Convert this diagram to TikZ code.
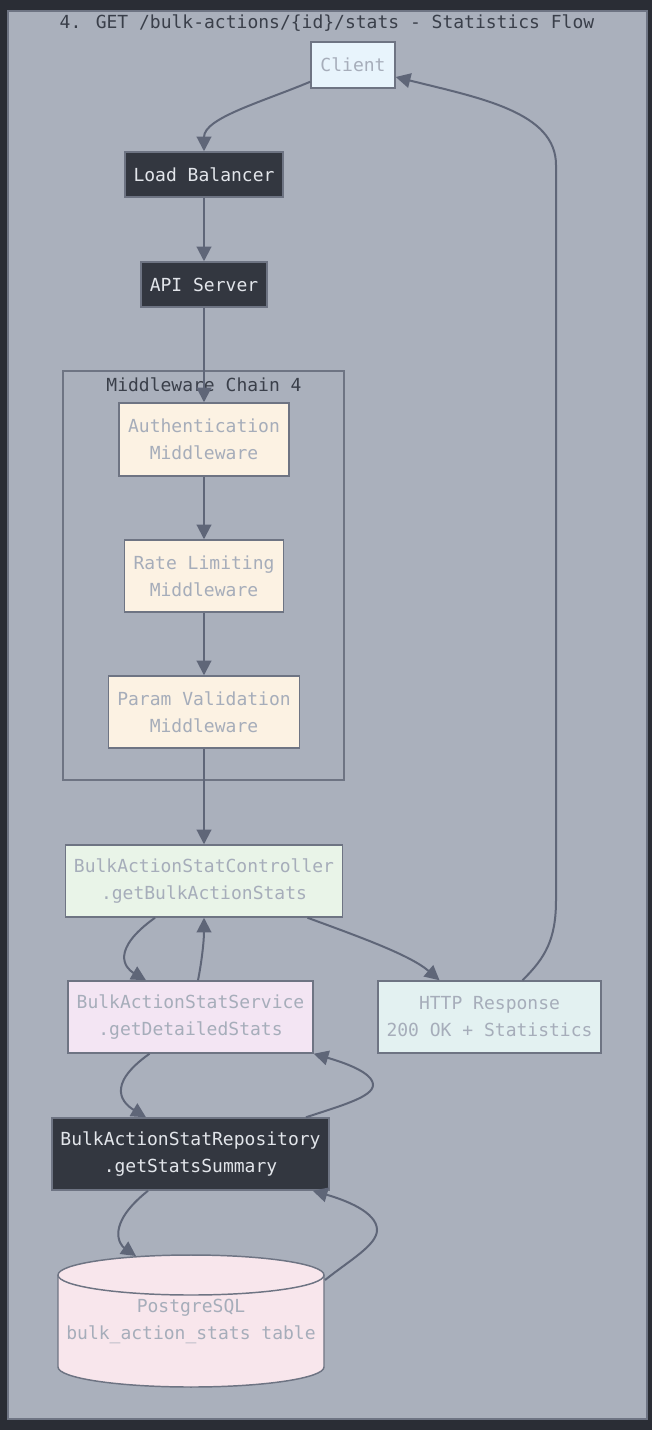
\documentclass[tikz,border=0pt]{standalone}
\usepackage{fontspec}
\setmainfont{DejaVu Sans Mono}
\usetikzlibrary{arrows.meta,calc}
\definecolor{outerbg}{HTML}{2A2D35}
\definecolor{innerbg}{HTML}{AAB0BC}
\definecolor{framec}{HTML}{6E7483}
\definecolor{edgec}{HTML}{5F6678}
\definecolor{lighttxt}{HTML}{A6ADBA}
\definecolor{darktxt}{HTML}{E2E5EA}
\definecolor{titletxt}{HTML}{3A3F4A}
\definecolor{darkfill}{HTML}{333740}
\definecolor{clientfill}{HTML}{E8F4FC}
\definecolor{mwfill}{HTML}{FCF2E3}
\definecolor{ctrlfill}{HTML}{E9F4E8}
\definecolor{svcfill}{HTML}{F3E5F3}
\definecolor{httpfill}{HTML}{E3F1F1}
\definecolor{dbfill}{HTML}{F8E6EC}
\begin{document}
\begin{tikzpicture}[x=0.75pt,y=-0.75pt,
  basefont/.style={font=\fontsize{13.5pt}{20.25pt}\selectfont},
  box/.style={basefont, draw=framec, line width=1.1pt, inner sep=0pt, align=center},
  lightbox/.style={box, text=lighttxt},
  darkbox/.style={box, fill=darkfill, text=darktxt},
  cluster/.style={draw=framec, line width=1.1pt, inner sep=0pt},
  lbl/.style={basefont, text=titletxt, inner sep=0pt},
  flow/.style={draw=edgec, line width=1.5pt, -{Triangle[length=11pt,width=11pt]}}]
\useasboundingbox (0,0) rectangle (652,1430);
\fill[outerbg] (0,0) rectangle (652,1430);
\node[cluster, fill=innerbg, draw=framec, minimum width=639*0.75pt, minimum height=1408*0.75pt] (frame) at (327.5,715) {};
\node[lbl] (title) at (327,23.5) {4. GET /bulk-actions/\{id\}/stats - Statistics Flow};

% middleware cluster
\node[cluster, minimum width=281*0.75pt, minimum height=409*0.75pt] (mw) at (203.5,575.5) {};
\node[lbl] (mwlbl) at (204,385) {Middleware Chain 4};

% nodes
\node[lightbox, fill=clientfill, minimum width=84*0.75pt, minimum height=46*0.75pt] (cl) at (353,65) {Client};
\node[darkbox, minimum width=158*0.75pt, minimum height=45*0.75pt] (lb) at (204,174.5) {Load Balancer};
\node[darkbox, minimum width=126*0.75pt, minimum height=45*0.75pt] (api) at (204,284.5) {API Server};
\node[lightbox, fill=mwfill, minimum width=170*0.75pt, minimum height=73*0.75pt] (auth) at (204,439.5) {Authentication\\Middleware};
\node[lightbox, fill=mwfill, minimum width=159*0.75pt, minimum height=72*0.75pt] (rate) at (204,576) {Rate Limiting\\Middleware};
\node[lightbox, fill=mwfill, minimum width=191*0.75pt, minimum height=72*0.75pt] (param) at (204,712) {Param Validation\\Middleware};
\node[lightbox, fill=ctrlfill, minimum width=277*0.75pt, minimum height=72*0.75pt] (ctrl) at (204,881) {BulkActionStatController\\.getBulkActionStats};
\node[lightbox, fill=svcfill, minimum width=245*0.75pt, minimum height=72*0.75pt] (svc) at (190.5,1017) {BulkActionStatService\\.getDetailedStats};
\node[lightbox, fill=httpfill, minimum width=223*0.75pt, minimum height=72*0.75pt] (http) at (489.5,1017) {HTTP Response\\200 OK + Statistics};
\node[darkbox, minimum width=277*0.75pt, minimum height=72*0.75pt] (repo) at (190.5,1154) {BulkActionStatRepository\\.getStatsSummary};

% database cylinder
\filldraw[fill=dbfill, draw=framec, line width=1.1pt] (58,1275) -- (58,1367) arc[start angle=180, end angle=0, x radius=133, y radius=20] -- (324,1275) arc[start angle=0, end angle=-180, x radius=133, y radius=20] -- cycle;
\draw[draw=framec, line width=1.1pt] (58,1275) arc[start angle=180, end angle=0, x radius=133, y radius=20];
\node[lightbox, draw=none, minimum width=266*0.75pt, minimum height=132*0.75pt] (db) at (191,1321) {PostgreSQL\\bulk\_action\_stats table};

% edges
\draw[flow] ($(cl.south west)+(0,-7)$) .. controls (262,102) and (204,118) .. (lb.north);
\draw[flow] (lb) -- (api);
\draw[flow] (api) -- (auth);
\draw[flow] (auth) -- (rate);
\draw[flow] (rate) -- (param);
\draw[flow] (param) -- (ctrl);
\draw[flow] ($(ctrl.south)+(-49,0)$) .. controls (110,950) and (125,968) .. ($(svc.north)+(-44.5,0)$);
\draw[flow] ($(svc.north)+(7.5,0)$) .. controls (202,960) and (204,940) .. (ctrl.south);
\draw[flow] ($(ctrl.south)+(103.5,0)$) .. controls (360,937) and (410,955) .. ($(http.north)+(-50,0)$);
\draw[flow] ($(http.north)+(33,0)$) .. controls (545,958) and (556,940) .. (556,900) -- (556,165) .. controls (556,112) and (480,98) .. ($(cl.east)+(0,12)$);
\draw[flow] ($(svc.south)+(-41,0)$) .. controls (104,1086) and (124,1104) .. ($(repo.north)+(-44.5,0)$);
\draw[flow] ($(repo.north)+(115.5,0)$) .. controls (340,1106) and (373,1097) .. (373,1085) .. controls (373,1072) and (342,1062) .. (svc.south east);
\draw[flow] ($(repo.south)+(-42.5,0)$) .. controls (105,1225) and (120,1245) .. (136,1256);
\draw[flow] (325,1280) .. controls (350,1260) and (377,1245) .. (377,1230) .. controls (377,1212) and (345,1200) .. ($(repo.south east)+(-17,0)$);
\end{tikzpicture}
\end{document}
